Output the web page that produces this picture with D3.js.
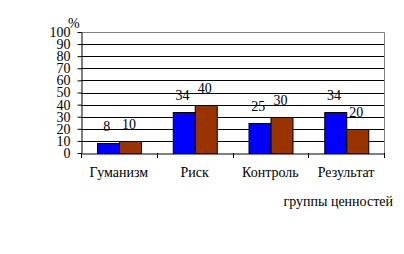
<!DOCTYPE html>
<html>
<head>
<meta charset="utf-8">
<script src="https://cdn.jsdelivr.net/npm/d3@7"></script>
<style>
  body { margin: 0; background: #fff; }
</style>
</head>
<body>
<div id="chart"></div>
<script>
const categories = ['Гуманизм', 'Риск', 'Контроль', 'Результат'];
const series1 = [8, 34, 25, 34];
const series2 = [10, 40, 30, 20];
const yTicks = [0, 10, 20, 30, 40, 50, 60, 70, 80, 90, 100];
const colors = ['#0000ff', '#993300'];

const W = 404, H = 254;
const mLeft = 81, mRight = 384, mTop = 32, mBottom = 153;
const FONT = '"Liberation Serif", "Times New Roman", serif';

const svg = d3.select('#chart')
    .append('svg')
    .attr('width', W)
    .attr('height', H);

const x = d3.scaleBand().domain(categories).range([mLeft, mRight]);
const y = d3.scaleLinear().domain([0, 100]).range([mBottom, mTop]);
// two bars per group, gaps on both sides
const inner = d3.scaleBand().domain([0, 1]).range([0, x.bandwidth()]).paddingInner(0).paddingOuter(0.72);

// gridlines
svg.append('g')
    .selectAll('line')
    .data(yTicks.filter(d => d > 0 && d < 100))
    .enter()
    .append('line')
    .attr('x1', mLeft).attr('x2', mRight)
    .attr('y1', d => Math.round(y(d)) + 0.5).attr('y2', d => Math.round(y(d)) + 0.5)
    .attr('stroke', '#000');

// plot border top/right (gray)
svg.append('path')
    .attr('d', `M${mLeft},${mTop + 0.5}H${mRight + 0.5}V${mBottom}`)
    .attr('fill', 'none')
    .attr('stroke', '#808080');

// bars
const data = categories.map((c, i) => ({ c, v: [series1[i], series2[i]] }));
const groups = svg.append('g')
    .selectAll('g')
    .data(data)
    .enter()
    .append('g')
    .attr('transform', d => `translate(${x(d.c)},0)`);

groups.selectAll('rect')
    .data(d => d.v.map((v, k) => ({ v, k })))
    .enter()
    .append('rect')
    .attr('x', d => Math.round(inner(d.k)) + 0.5)
    .attr('y', d => Math.round(y(d.v)) + 0.5)
    .attr('width', Math.round(inner.bandwidth()))
    .attr('height', d => mBottom - Math.round(y(d.v)))
    .attr('fill', d => colors[d.k])
    .attr('stroke', '#000');

groups.selectAll('text')
    .data(d => d.v.map((v, k) => ({ v, k })))
    .enter()
    .append('text')
    .attr('x', d => inner(d.k) + inner.bandwidth() / 2 - 1)
    .attr('y', d => y(d.v) - 12)
    .attr('text-anchor', 'middle')
    .attr('font-family', FONT)
    .attr('font-size', 14)
    .attr('fill', '#000')
    .text(d => d.v);

// y axis
const yAxis = svg.append('g')
    .attr('transform', `translate(${mLeft + 0.5},0)`)
    .call(d3.axisLeft(y).tickValues(yTicks).tickSize(4).tickSizeOuter(0).tickPadding(7));
yAxis.attr('font-family', FONT).attr('font-size', 14);
yAxis.select('.domain').attr('stroke', '#000');
yAxis.selectAll('line').attr('stroke', '#000');
yAxis.selectAll('text').attr('fill', '#000');

// x axis
const xAxis = svg.append('g')
    .attr('transform', `translate(0,${mBottom + 0.5})`)
    .call(d3.axisBottom(x).tickSize(0).tickPadding(14));
xAxis.attr('font-family', FONT).attr('font-size', 14);
xAxis.select('.domain').attr('stroke', '#000');
xAxis.selectAll('text').attr('fill', '#000');

// band boundary ticks
svg.append('g')
    .selectAll('line')
    .data(categories.map(c => x(c)).concat([mRight]))
    .enter()
    .append('line')
    .attr('x1', d => Math.round(d) + 0.5).attr('x2', d => Math.round(d) + 0.5)
    .attr('y1', mBottom).attr('y2', mBottom + 5)
    .attr('stroke', '#000');

svg.append('text')
    .attr('x', 68).attr('y', 28)
    .attr('font-family', FONT)
    .attr('font-size', 14)
    .text('%');

svg.append('text')
    .attr('x', 393).attr('y', 206)
    .attr('text-anchor', 'end')
    .attr('font-family', FONT)
    .attr('font-size', 14)
    .text('группы ценностей');
</script>
</body>
</html>
